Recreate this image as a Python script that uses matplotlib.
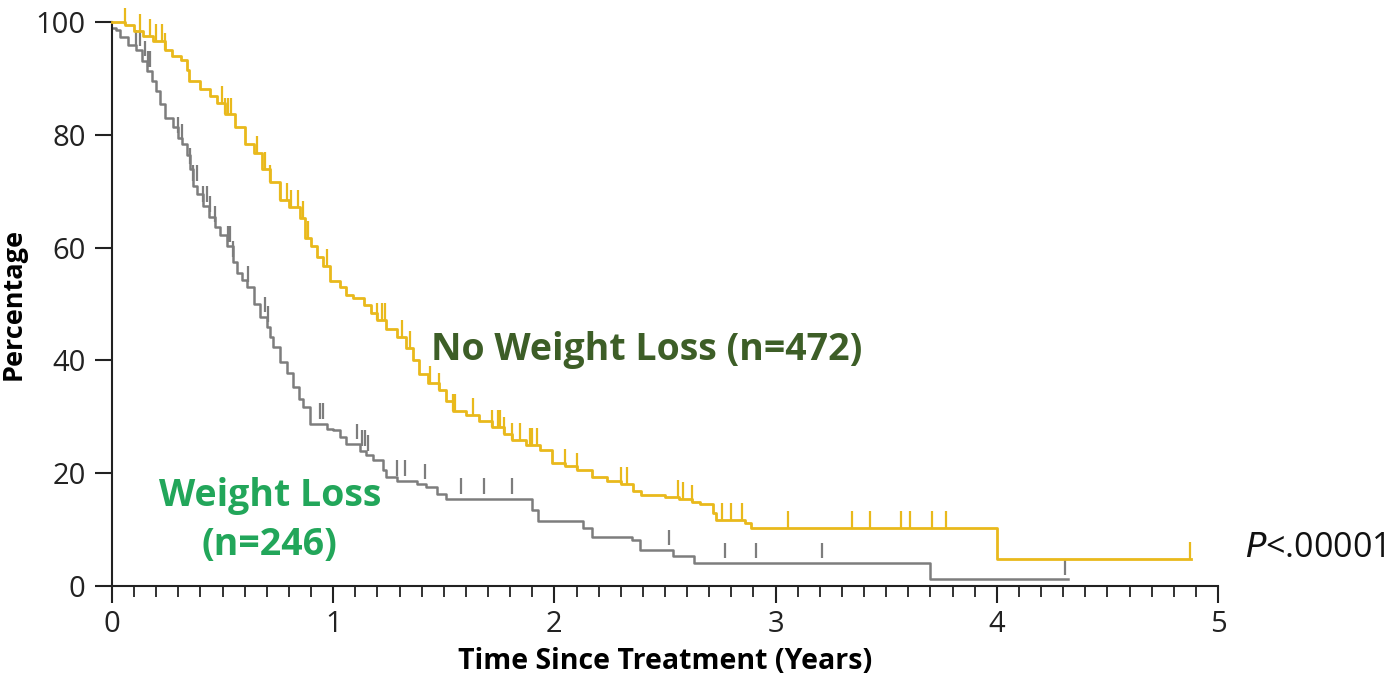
import numpy as np
import matplotlib
matplotlib.use("Agg")
import matplotlib.pyplot as plt
from matplotlib.ticker import MultipleLocator

plt.rcParams['font.family'] = ['Open Sans', 'DejaVu Sans']

# ---- data ----
no_wl_t = [0.00, 0.06, 0.10, 0.14, 0.185, 0.24, 0.27, 0.31, 0.34, 0.35, 0.40, 0.443, 0.473,
           0.51, 0.556, 0.60, 0.64, 0.68, 0.714, 0.76, 0.80, 0.85, 0.873, 0.90, 0.925, 0.955,
           0.985, 1.03, 1.06, 1.09, 1.14, 1.17, 1.197, 1.24, 1.29, 1.33, 1.36, 1.39, 1.43,
           1.48, 1.51, 1.54, 1.60, 1.66, 1.72, 1.77, 1.81, 1.87, 1.935, 1.99, 2.05, 2.10,
           2.17, 2.24, 2.30, 2.355, 2.39, 2.50, 2.565, 2.62, 2.66, 2.715, 2.73, 2.86, 2.89,
           4.00, 4.88]
no_wl_p = [100, 99.5, 98.4, 97.5, 96.6, 95.1, 94.0, 93.2, 91.5, 89.5, 88.2, 86.8, 85.7,
           83.6, 81.3, 78.3, 76.8, 74.0, 71.7, 68.5, 67.2, 65.2, 61.7, 60.2, 58.4, 56.8,
           54.0, 53.0, 51.6, 51.0, 49.8, 48.4, 47.2, 45.6, 44.1, 42.2, 40.0, 37.5, 36.0,
           34.7, 32.8, 31.1, 30.3, 29.3, 28.2, 27.0, 25.9, 25.0, 24.1, 21.8, 21.2, 20.6,
           19.3, 18.7, 18.1, 16.9, 16.2, 15.8, 15.5, 14.9, 14.5, 12.9, 11.7, 11.1, 10.3,
           4.8, 4.8]

wl_t = [0.00, 0.02, 0.036, 0.072, 0.11, 0.134, 0.16, 0.18, 0.20, 0.217, 0.24, 0.276, 0.30,
        0.315, 0.338, 0.353, 0.366, 0.385, 0.41, 0.44, 0.466, 0.49, 0.518, 0.545, 0.564,
        0.59, 0.61, 0.64, 0.67, 0.70, 0.714, 0.728, 0.76, 0.79, 0.82, 0.845, 0.865, 0.895,
        0.97, 1.00, 1.03, 1.06, 1.12, 1.15, 1.18, 1.225, 1.24, 1.29, 1.38, 1.42, 1.47, 1.51,
        1.90, 1.925, 2.13, 2.17, 2.35, 2.385, 2.535, 2.63, 3.70, 4.32]
wl_p = [99.0, 98.5, 97.3, 96.0, 95.0, 93.1, 91.3, 89.5, 87.7, 85.4, 83.0, 81.3, 79.5,
        78.3, 76.5, 74.0, 71.0, 69.5, 67.3, 65.5, 63.7, 62.2, 60.2, 57.5, 55.5,
        54.2, 53.1, 50.0, 47.7, 46.0, 44.2, 42.4, 39.8, 37.7, 35.3, 33.2, 31.7, 28.8,
        27.8, 27.6, 26.4, 25.2, 24.0, 23.2, 22.3, 20.5, 19.3, 18.7, 18.1, 17.5, 16.3, 15.5,
        13.4, 11.6, 10.2, 8.7, 8.2, 6.4, 5.3, 4.1, 1.2, 1.2]

no_wl_censor = [0.06, 0.127, 0.172, 0.20, 0.225, 0.24, 0.496, 0.51, 0.525, 0.54, 0.654, 0.69,
                0.714, 0.76, 0.79, 0.81, 0.84, 0.864, 0.886, 0.97, 1.197, 1.22, 1.234, 1.31,
                1.347, 1.437, 1.48, 1.54, 1.55, 1.63, 1.72, 1.745, 1.755, 1.77, 1.81, 1.845,
                1.89, 1.90, 1.92, 2.05, 2.10, 2.30, 2.33, 2.56, 2.58, 2.62, 2.76, 2.80, 2.85,
                3.056, 3.345, 3.427, 3.567, 3.607, 3.707, 3.77, 4.875]
wl_censor = [0.11, 0.127, 0.149, 0.163, 0.172, 0.30, 0.315, 0.353, 0.366, 0.383, 0.41, 0.428,
             0.443, 0.466, 0.525, 0.535, 0.545, 0.615, 0.69, 0.705, 0.94, 0.955, 1.107, 1.13,
             1.144, 1.157, 1.29, 1.325, 1.415, 1.58, 1.68, 1.81, 2.52, 2.77, 2.91, 3.21, 4.31]

x_ticks = [0, 1, 2, 3, 4, 5]
y_ticks = [0, 20, 40, 60, 80, 100]

YELLOW = '#E9B91C'
GRAY = '#7D7D7D'


def step_value(ts, ps, t):
    idx = np.searchsorted(np.asarray(ts), t, side='right') - 1
    return np.asarray(ps)[np.clip(idx, 0, len(ps) - 1)]


fig = plt.figure(figsize=(13.96, 6.79), dpi=100)
ax = fig.add_axes([0.0802, 0.1370, 0.7923, 0.8306])

ax.step(no_wl_t, no_wl_p, where='post', color=YELLOW, lw=2.0, clip_on=False, zorder=3)
ax.step(wl_t, wl_p, where='post', color=GRAY, lw=1.8, clip_on=False, zorder=2)

yc = step_value(no_wl_t, no_wl_p, np.array(no_wl_censor))
ax.vlines(no_wl_censor, yc, yc + 3.0, color=YELLOW, lw=1.6, clip_on=False, zorder=3)
gc = step_value(wl_t, wl_p, np.array(wl_censor))
ax.vlines(wl_censor, gc + 0.8, gc + 3.6, color=GRAY, lw=1.6, clip_on=False, zorder=2)

ax.set_xlim(0, 5)
ax.set_ylim(0, 100)
ax.spines['top'].set_visible(False)
ax.spines['right'].set_visible(False)
for s in ('left', 'bottom'):
    ax.spines[s].set_linewidth(1.5)
    ax.spines[s].set_color('#222222')

ax.set_xticks(x_ticks)
ax.set_yticks(y_ticks)
ax.xaxis.set_minor_locator(MultipleLocator(0.1))
ax.tick_params(axis='x', which='major', length=12, width=1.5, labelsize=21, pad=5, colors='#222222')
ax.tick_params(axis='x', which='minor', length=8, width=1.3, colors='#222222')
ax.tick_params(axis='y', which='major', length=12, width=1.5, labelsize=21, pad=7, colors='#222222')

ax.set_xlabel('Time Since Treatment (Years)', fontsize=20.5, fontweight='bold', labelpad=6)
ax.set_ylabel('Percentage', fontsize=19.5, fontweight='bold', labelpad=6)

ax.text(1.44, 41.8, 'No Weight Loss (n=472)', fontsize=27, fontweight='bold',
        color='#3D5E27', va='center', ha='left')
ax.text(0.714, 11.6, 'Weight Loss\n(n=246)', fontsize=27, fontweight='bold',
        color='#22A65A', va='center', ha='center', linespacing=1.35)
ax.text(5.12, 6.7, r'$\it{P}$<.00001', fontsize=24.5, color='#111111', va='center',
        ha='left', clip_on=False)

fig.savefig('out.png', dpi=100)
